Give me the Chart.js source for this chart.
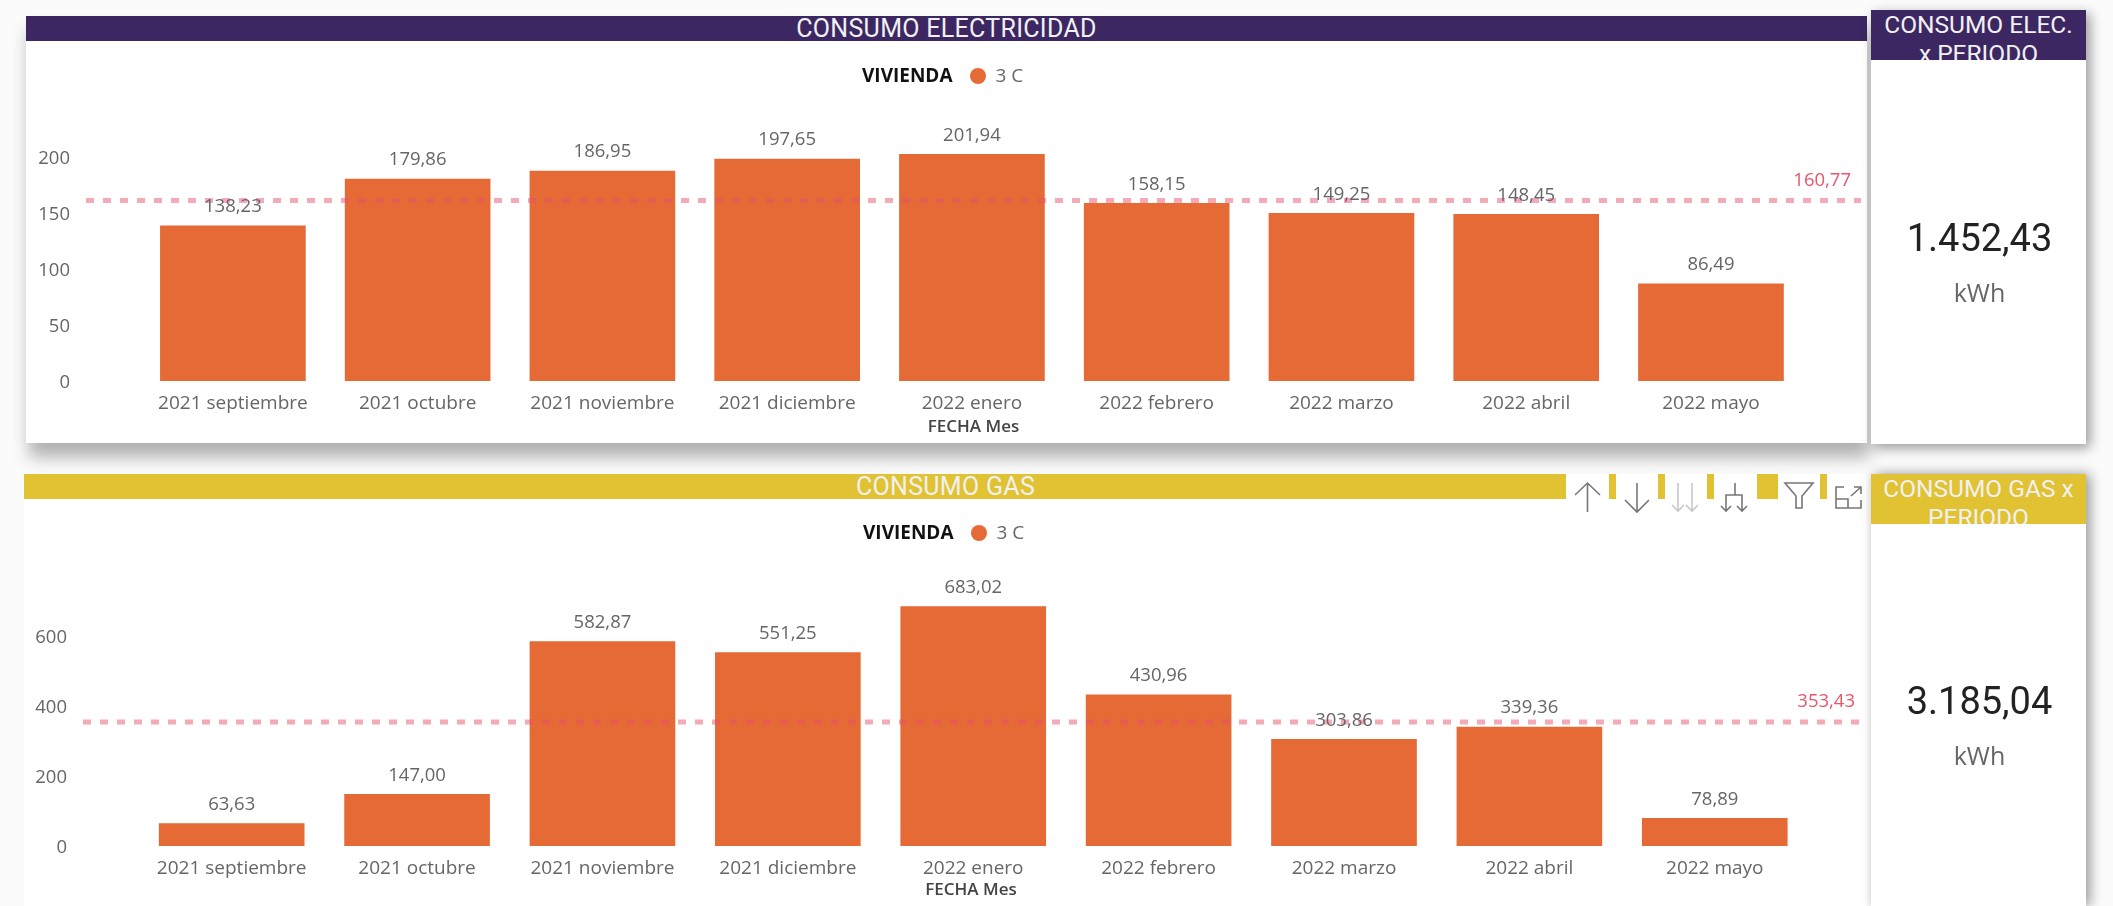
<!DOCTYPE html>
<html lang="es">
<head>
<meta charset="utf-8">
<title>Consumo electricidad y gas</title>
<script src="https://cdn.jsdelivr.net/npm/chart.js@4"></script>
<style>
    html, body { margin: 0; padding: 0; background: #fbfbfb; }
    body { position: relative; width: 2113px; height: 906px; overflow: hidden; font-family: "Open Sans", sans-serif; }
    .panel, .card { position: absolute; background: #fff; }
    .panel canvas { position: absolute; left: 0; }
    .header { position: absolute; left: 0; right: 0; top: 0; color: #f1f1f1; font-family: Roboto, sans-serif; text-align: center; overflow: hidden; }
    .purple { background: #3c2762; }
    .yellow { background: #e0c232; }
    .legend { position: absolute; font-size: 19px; line-height: 26px; color: #666; white-space: nowrap; }
    .legend b { color: #111; margin-right: 17px; }
    .legend i { display: inline-block; width: 16px; height: 16px; border-radius: 50%; background: #e56a36; margin-right: 10px; vertical-align: -2px; }
    .card .header { font-size: 24.5px; line-height: 29px; }
    .value { position: absolute; left: 2px; right: 0; text-align: center; font-family: Roboto, sans-serif; font-size: 38px; line-height: 44px; color: #222; }
    .unit { position: absolute; left: 2px; right: 0; text-align: center; font-size: 25px; line-height: 34px; color: #666; }
    #toolbar { position: absolute; left: 1566px; top: 474px; width: 301px; height: 42px; background: #fff; }
    #toolbar div { position: absolute; top: 0; height: 25px; background: #e0c232; }
    #toolbar svg { position: absolute; left: 0; top: 0; }
</style>
</head>
<body>

<div class="panel" style="left:26px;top:16px;width:1841px;height:427px;box-shadow:3px 14px 16px rgba(0,0,0,.3)">
    <div class="header purple" style="height:25px;font-size:25px;line-height:25px;letter-spacing:.3px">CONSUMO ELECTRICIDAD</div>
    <canvas id="elec-chart" style="top:25px"></canvas>
    <div class="legend" id="elec-legend" style="left:836px;top:46px"></div>
</div>

<div class="card" style="left:1871px;top:10px;width:215px;height:434px;box-shadow:4px 4px 12px rgba(0,0,0,.4)">
    <div class="header purple" style="height:50px">CONSUMO ELEC.<br>x PERIODO</div>
    <div class="value" style="top:206px" id="elec-total"></div>
    <div class="unit" style="top:265px">kWh</div>
</div>

<div class="panel" style="left:24px;top:474px;width:1843px;height:432px">
    <div class="header yellow" style="height:25px;font-size:25px;line-height:25px;letter-spacing:.3px">CONSUMO GAS</div>
    <canvas id="gas-chart" style="top:25px"></canvas>
    <div class="legend" id="gas-legend" style="left:839px;top:45px"></div>
</div>

<div id="toolbar">
    <div style="left:43px;width:7px"></div>
    <div style="left:92px;width:7px"></div>
    <div style="left:141px;width:7px"></div>
    <div style="left:191px;width:21px"></div>
    <div style="left:254px;width:7px"></div>
    <svg width="301" height="42" fill="none" stroke="#777" stroke-width="1.6">
        <path d="M21.5 38V9M9 21L21.5 9L34 21"/>
        <path d="M71 9V38M59 26L71 38L83 26"/>
        <path d="M112 9V37M106 31L112 37L118 31M126 9V37M120 31L126 37L132 31" stroke="#c8c8c8"/>
        <path d="M169 9V21M160 37V21H176V37M155 32L160 37L165 32M171 32L176 37L181 32"/>
        <path d="M219 9H247L236 22V34H230V22Z"/>
        <path d="M278 13H270V34H295V26M270 25H282V34M285 22L295 13M288 13H295V20"/>
    </svg>
</div>

<div class="card" style="left:1871px;top:474px;width:215px;height:432px;box-shadow:4px 0 12px rgba(0,0,0,.4)">
    <div class="header yellow" style="height:50px;line-height:29px">CONSUMO GAS x<br>PERIODO</div>
    <div class="value" style="top:205px" id="gas-total"></div>
    <div class="unit" style="top:264px">kWh</div>
</div>

<script>
// ===================================
// DATA
// ===================================

const months = ['2021 septiembre', '2021 octubre', '2021 noviembre', '2021 diciembre', '2022 enero',
    '2022 febrero', '2022 marzo', '2022 abril', '2022 mayo'];
const elecValues = [138.23, 179.86, 186.95, 197.65, 201.94, 158.15, 149.25, 148.45, 86.49];
const gasValues = [63.63, 147.00, 582.87, 551.25, 683.02, 430.96, 303.86, 339.36, 78.89];
const elecAverage = 160.77;
const gasAverage = 353.43;
const elecTotal = '1.452,43';
const gasTotal = '3.185,04';
const elecTicks = [0, 50, 100, 150, 200];
const gasTicks = [0, 200, 400, 600];
const seriesName = '3 C';

const BAR_COLOR = '#e56a36';
const LINE_COLOR = 'rgba(232, 78, 105, 0.48)';
const TEXT_COLOR = '#666';
const FONT = '"Open Sans", sans-serif';

const formatValue = v => v.toFixed(2).replace('.', ',');

// Value labels over the bars and the label of the average line
const valueLabels = {
    id: 'valueLabels',
    afterDatasetsDraw(chart, args, opts) {
        const ctx = chart.ctx;
        ctx.save();
        ctx.font = `18.5px ${FONT}`;
        ctx.textBaseline = 'middle';
        ctx.textAlign = 'center';
        ctx.fillStyle = TEXT_COLOR;
        const bars = chart.getDatasetMeta(1).data;
        bars.forEach((bar, i) => {
            ctx.fillText(formatValue(chart.data.datasets[1].data[i].y), bar.x, bar.y - 19);
        });
        ctx.textAlign = 'right';
        ctx.fillStyle = '#e8566c';
        ctx.fillText(formatValue(opts.average), chart.chartArea.right - opts.inset,
            chart.scales.y.getPixelForValue(opts.average) - 20);
        ctx.restore();
    }
};

function createChart(id, values, average, ticks, cfg) {
    const canvas = document.getElementById(id);
    canvas.width = cfg.width;
    canvas.height = cfg.height;
    canvas.style.width = cfg.width + 'px';
    canvas.style.height = cfg.height + 'px';

    return new Chart(canvas, {
        data: {
            datasets: [
                {
                    type: 'line',
                    label: 'Promedio',
                    order: 0,
                    data: [{ x: cfg.xMin, y: average }, { x: cfg.xMax, y: average }],
                    borderColor: LINE_COLOR,
                    borderWidth: 5,
                    borderDash: [8, 9],
                    pointRadius: 0
                },
                {
                    type: 'bar',
                    label: seriesName,
                    order: 1,
                    data: values.map((v, i) => ({ x: i, y: v })),
                    backgroundColor: BAR_COLOR,
                    barThickness: 145
                }
            ]
        },
        options: {
            responsive: false,
            animation: false,
            layout: { padding: { top: cfg.top, right: cfg.right } },
            plugins: {
                legend: { display: false },
                tooltip: { enabled: false },
                valueLabels: { average, inset: cfg.labelInset }
            },
            scales: {
                x: {
                    type: 'linear',
                    offset: false, // bar defaults turn this on, it would shrink the bands
                    min: cfg.xMin,
                    max: cfg.xMax,
                    grid: { display: false, drawTicks: false },
                    border: { display: false },
                    afterBuildTicks: scale => { scale.ticks = months.map((m, i) => ({ value: i })); },
                    afterFit: scale => { scale.height = cfg.bottom; },
                    ticks: {
                        autoSkip: false,
                        maxRotation: 0,
                        padding: 11,
                        color: TEXT_COLOR,
                        font: { family: FONT, size: 19 },
                        callback: value => months[value]
                    },
                    title: {
                        display: true,
                        text: 'FECHA Mes',
                        color: '#444',
                        padding: { top: 0, bottom: 6 },
                        font: { family: FONT, size: 17, weight: '600' }
                    }
                },
                y: {
                    min: 0,
                    max: cfg.yMax,
                    grid: { display: false, drawTicks: false },
                    border: { display: false },
                    afterBuildTicks: scale => { scale.ticks = ticks.map(value => ({ value })); },
                    afterFit: scale => { scale.width = cfg.left; },
                    ticks: {
                        padding: 16,
                        labelOffset: 2,
                        color: TEXT_COLOR,
                        font: { family: FONT, size: 18.5 }
                    }
                }
            }
        },
        plugins: [valueLabels]
    });
}

function fillLegend(id, chart) {
    const name = chart.data.datasets[1].label;
    document.getElementById(id).innerHTML = `<b>VIVIENDA</b><i></i>${name}`;
}

const elecChart = createChart('elec-chart', elecValues, elecAverage, elecTicks, {
    width: 1841, height: 402, left: 60, right: 6, top: 93, bottom: 62,
    yMax: 220, xMin: -0.795, xMax: 8.812, labelInset: 10
});
const gasChart = createChart('gas-chart', gasValues, gasAverage, gasTicks, {
    width: 1843, height: 407, left: 59, right: 8, top: 84, bottom: 60,
    yMax: 750, xMin: -0.802, xMax: 8.778, labelInset: 4
});

fillLegend('elec-legend', elecChart);
fillLegend('gas-legend', gasChart);
document.getElementById('elec-total').textContent = elecTotal;
document.getElementById('gas-total').textContent = gasTotal;
</script>
</body>
</html>
